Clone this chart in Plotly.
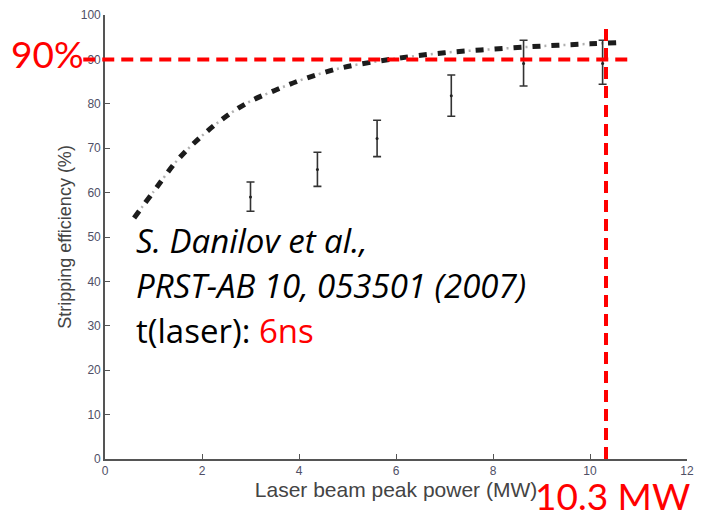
import plotly.graph_objects as go

# ---- data ----
curve_power = [0.6, 1.0, 1.5, 2.0, 2.5, 3.0, 3.5, 4.0, 4.5, 5.0, 6.0, 7.0, 8.0, 9.0, 10.0, 10.6]
curve_eff = [54.3, 60.2, 67.4, 72.8, 77.2, 80.6, 83.0, 85.2, 87.0, 88.4, 90.2, 91.5, 92.3, 93.0, 93.5, 93.8]

meas_power = [3.0, 4.38, 5.61, 7.14, 8.63, 10.26]
meas_eff = [59.0, 65.2, 72.2, 81.8, 89.1, 89.1]
meas_upper = [62.4, 69.1, 76.3, 86.5, 94.3, 94.3]
meas_lower = [55.8, 61.4, 68.1, 77.2, 84.0, 84.4]

x_ticks = [0, 2, 4, 6, 8, 10, 12]
y_ticks = [0, 10, 20, 30, 40, 50, 60, 70, 80, 90, 100]

target_eff = 90
target_power = 10.33
target_power_top = 98

err_plus = [u - v for u, v in zip(meas_upper, meas_eff)]
err_minus = [v - l for v, l in zip(meas_eff, meas_lower)]

fig = go.Figure()

# light gray dots of the dash-dot curve
fig.add_trace(go.Scatter(
    x=curve_power, y=curve_eff, mode="lines",
    line=dict(color="#b0b0b0", width=2.5, dash="0px,12px,2px,5px", shape="spline"),
    hoverinfo="skip", showlegend=False))
# thick black dashes of the curve
fig.add_trace(go.Scatter(
    x=curve_power, y=curve_eff, mode="lines",
    line=dict(color="#1c1c1c", width=5, dash="8px,11px", shape="spline"),
    showlegend=False))

# measurements with error bars
fig.add_trace(go.Scatter(
    x=meas_power, y=meas_eff, mode="markers",
    marker=dict(color="#222222", size=3),
    error_y=dict(type="data", symmetric=False, array=err_plus, arrayminus=err_minus,
                 color="#333333", thickness=1.6, width=4),
    showlegend=False))

L, R, T, B = 105, 8, 13, 51
W, H = 702, 510
pw, ph = W - L - R, H - T - B

def px_x(p):
    return (p - L) / pw

def px_y(p):
    return (H - B - p) / ph

red = "#ff0000"
fig.add_shape(type="line", xref="paper", yref="y",
              x0=px_x(83), x1=px_x(640), y0=target_eff, y1=target_eff,
              line=dict(color=red, width=4, dash="12px,7px"), layer="above")
fig.add_shape(type="line", xref="x", yref="y",
              x0=target_power, x1=target_power, y0=0, y1=target_power_top,
              line=dict(color=red, width=4, dash="12px,7px"), layer="above")

big_font = "Lato, 'Open Sans', sans-serif"
cite_font = "'Open Sans', Lato, sans-serif"
fig.add_annotation(xref="paper", yref="paper", x=px_x(8), y=px_y(52),
                   xanchor="left", yanchor="middle", showarrow=False,
                   text="90%", font=dict(family=big_font, size=37, color=red))
fig.add_annotation(xref="paper", yref="paper", x=px_x(538), y=px_y(496),
                   xanchor="left", yanchor="middle", showarrow=False,
                   text="10.3 MW", font=dict(family=big_font, size=37, color=red))
fig.add_annotation(xref="paper", yref="paper", x=px_x(134), y=px_y(240),
                   xanchor="left", yanchor="middle", showarrow=False,
                   text="<i>S. Danilov et al.,</i>", font=dict(family=cite_font, size=33, color="black"))
fig.add_annotation(xref="paper", yref="paper", x=px_x(134), y=px_y(285),
                   xanchor="left", yanchor="middle", showarrow=False,
                   text="<i>PRST-AB 10, 053501 (2007)</i>", font=dict(family=cite_font, size=33, color="black"))
fig.add_annotation(xref="paper", yref="paper", x=px_x(134), y=px_y(330),
                   xanchor="left", yanchor="middle", showarrow=False,
                   text="t(laser): <span style='color:#ff0000'>6ns</span>",
                   font=dict(family=cite_font, size=33, color="black"))

axis_font = "'Liberation Sans', Arial, sans-serif"
fig.update_layout(
    width=W, height=H,
    margin=dict(l=L, r=R, t=T, b=B),
    paper_bgcolor="white", plot_bgcolor="white",
    showlegend=False,
    font=dict(family=axis_font),
    xaxis=dict(range=[0, 12], tickvals=x_ticks, ticks="inside", ticklen=5, tickwidth=1.2,
               tickcolor="#555555", showline=True, linecolor="#555555", linewidth=1.6,
               showgrid=False, zeroline=False,
               tickfont=dict(size=12, color="#4f4f66"),
               title=dict(text="Laser beam peak power (MW)", standoff=4,
                          font=dict(size=21, color="#444444"))),
    yaxis=dict(range=[0, 100], tickvals=y_ticks, ticks="inside", ticklen=5, tickwidth=1.2,
               tickcolor="#555555", showline=True, linecolor="#555555", linewidth=1.6,
               showgrid=False, zeroline=False,
               tickfont=dict(size=12, color="#4f4f66"),
               title=dict(text="Stripping efficiency (%)", standoff=4,
                          font=dict(size=18, color="#444444"))),
)

fig.write_html("out.html")
